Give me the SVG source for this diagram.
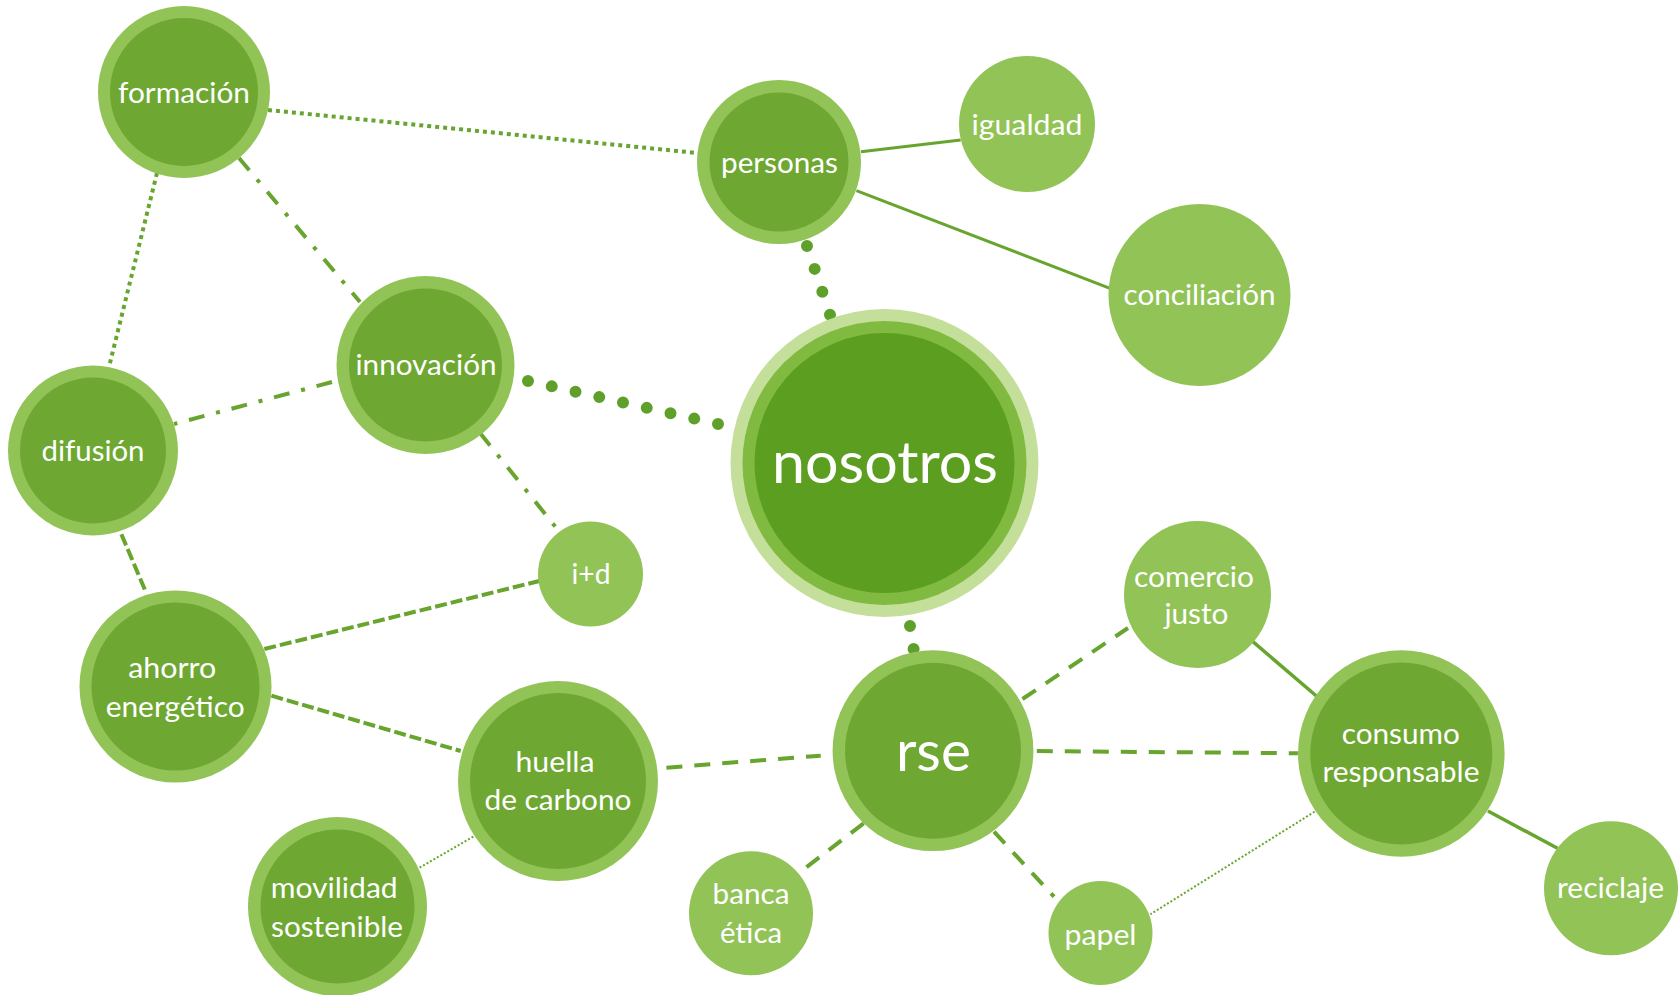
<svg xmlns="http://www.w3.org/2000/svg" width="1680" height="995" viewBox="0 0 1680 995">
<style>
.ring{fill:#92c357}
.core{fill:#6ea832}
.light{fill:#92c357}
.lbl{font-family:Lato,"Open Sans","DejaVu Sans",sans-serif;font-size:29.5px;fill:#ffffff;text-anchor:middle}
.big{font-size:59px}
.mid{font-size:56px}
.c{fill:none;stroke:#67a52e}
.dot{stroke-width:4;stroke-dasharray:4 4}
.dashdot{stroke-width:4;stroke-dasharray:16 12 4 12}
.sysdash{stroke-width:4;stroke-dasharray:12 4}
.dash{stroke-width:4;stroke-dasharray:16 12}
.fine{stroke-width:2;stroke-dasharray:2 2}
.solid{stroke-width:3}
.solid2{stroke-width:3.5}
.round{stroke-width:12;stroke-linecap:round;stroke:#5fa02a}
</style>
<rect width="1680" height="995" fill="#ffffff"/>
<g id="connectors">
<line class="c dot" x1="268" y1="110" x2="697.5" y2="153"/>
<line class="c dot" x1="157" y1="173" x2="109" y2="367"/>
<line class="c dashdot" x1="239" y1="158" x2="360" y2="302"/>
<line class="c dashdot" x1="332" y1="382" x2="174" y2="424"/>
<line class="c dashdot" x1="480" y1="433" x2="558" y2="530"/>
<line class="c round" x1="528" y1="381" x2="718" y2="424" stroke-dasharray="0 24.35"/>
<line class="c round" x1="807" y1="246" x2="830" y2="314.7" stroke-dasharray="0 24.13"/>
<line class="c round" x1="910" y1="626" x2="913.6" y2="649" stroke-dasharray="0 23.28"/>
<line class="c solid" x1="861" y1="151.7" x2="960.7" y2="140"/>
<line class="c solid" x1="856.4" y1="190.7" x2="1110" y2="288.3"/>
<line class="c sysdash" x1="121.4" y1="534.3" x2="146.4" y2="593.3"/>
<line class="c sysdash" x1="264.3" y1="649" x2="539.3" y2="581"/>
<line class="c sysdash" x1="271.4" y1="695.7" x2="460.7" y2="751"/>
<line class="c dash" x1="666.4" y1="767.7" x2="820.7" y2="755.7"/>
<line class="c fine" x1="419.6" y1="867.7" x2="475" y2="835.7"/>
<line class="c dash" x1="1022.5" y1="699" x2="1128" y2="628"/>
<line class="c dash" x1="1036.8" y1="751" x2="1297.9" y2="753.3"/>
<line class="c dash" x1="863.6" y1="823.3" x2="798.6" y2="873.3"/>
<line class="c dash" x1="994" y1="831.7" x2="1054" y2="896.7"/>
<line class="c solid2" x1="1252.9" y1="641.7" x2="1316.4" y2="696"/>
<line class="c solid2" x1="1487.9" y1="811" x2="1557.5" y2="848.3"/>
<line class="c fine" x1="1314.6" y1="811.7" x2="1150.4" y2="914.3"/>
</g>
<g id="formacion">
<circle class="ring" cx="184" cy="92" r="86"/><circle class="core" cx="184" cy="92" r="74"/>
<text class="lbl" x="184" y="103.3" textLength="132" lengthAdjust="spacingAndGlyphs">formación</text>
</g>
<g id="personas">
<circle class="ring" cx="779" cy="162" r="82"/><circle class="core" cx="779" cy="162" r="69.5"/>
<text class="lbl" x="779.5" y="173.3" textLength="117" lengthAdjust="spacingAndGlyphs">personas</text>
</g>
<g id="igualdad">
<circle class="light" cx="1027" cy="124" r="68"/>
<text class="lbl" x="1027" y="135" textLength="111" lengthAdjust="spacingAndGlyphs">igualdad</text>
</g>
<g id="conciliacion">
<circle class="light" cx="1199.5" cy="295" r="91"/>
<text class="lbl" x="1199.5" y="305" textLength="152" lengthAdjust="spacingAndGlyphs">conciliación</text>
</g>
<g id="innovacion">
<circle class="ring" cx="425.5" cy="365" r="89"/><circle class="core" cx="425.5" cy="365" r="76.5"/>
<text class="lbl" x="426" y="375" textLength="141" lengthAdjust="spacingAndGlyphs">innovación</text>
</g>
<g id="difusion">
<circle class="ring" cx="93" cy="450.5" r="85"/><circle class="core" cx="93" cy="450.5" r="73"/>
<text class="lbl" x="93" y="461" textLength="103" lengthAdjust="spacingAndGlyphs">difusión</text>
</g>
<g id="nosotros">
<circle cx="884.5" cy="463" r="154" fill="#c3df99"/>
<circle cx="884.5" cy="463" r="142" fill="#80ba41"/>
<circle cx="884.5" cy="463" r="130" fill="#5c9e20"/>
<text class="lbl big" x="885" y="483.3" textLength="226" lengthAdjust="spacingAndGlyphs">nosotros</text>
</g>
<g id="id">
<circle class="light" cx="590.5" cy="574" r="52.5"/>
<text class="lbl" x="591" y="584.3" textLength="39" lengthAdjust="spacingAndGlyphs">i+d</text>
</g>
<g id="ahorro">
<circle class="ring" cx="175.5" cy="686.5" r="96"/><circle class="core" cx="175.5" cy="686.5" r="84"/>
<text class="lbl" x="172.2" y="677.7" textLength="88" lengthAdjust="spacingAndGlyphs">ahorro</text>
<text class="lbl" x="175.2" y="716.7" textLength="139" lengthAdjust="spacingAndGlyphs">energético</text>
</g>
<g id="huella">
<circle class="ring" cx="558" cy="781" r="100"/><circle class="core" cx="558" cy="781" r="88"/>
<text class="lbl" x="555" y="771.7" textLength="79" lengthAdjust="spacingAndGlyphs">huella</text>
<text class="lbl" x="558" y="810" textLength="147" lengthAdjust="spacingAndGlyphs">de carbono</text>
</g>
<g id="movilidad">
<circle class="ring" cx="337.5" cy="906.5" r="89.5"/><circle class="core" cx="337.5" cy="906.5" r="77"/>
<text class="lbl" x="334.2" y="897.7" textLength="127" lengthAdjust="spacingAndGlyphs">movilidad</text>
<text class="lbl" x="337" y="936.7" textLength="132" lengthAdjust="spacingAndGlyphs">sostenible</text>
</g>
<g id="rse">
<circle class="ring" cx="933" cy="750.7" r="100.4"/><circle class="core" cx="933" cy="750.7" r="88"/>
<text class="lbl mid" x="933.4" y="771" textLength="75" lengthAdjust="spacingAndGlyphs">rse</text>
</g>
<g id="banca">
<circle class="light" cx="751" cy="913.3" r="62"/>
<text class="lbl" x="751" y="904.3" textLength="77" lengthAdjust="spacingAndGlyphs">banca</text>
<text class="lbl" x="751" y="943.3" textLength="62" lengthAdjust="spacingAndGlyphs">ética</text>
</g>
<g id="papel">
<circle class="light" cx="1100.5" cy="933" r="52"/>
<text class="lbl" x="1100.5" y="945" textLength="72" lengthAdjust="spacingAndGlyphs">papel</text>
</g>
<g id="comercio">
<circle class="light" cx="1197.5" cy="594.5" r="73.5"/>
<text class="lbl" x="1194" y="586.7" textLength="120" lengthAdjust="spacingAndGlyphs">comercio</text>
<text class="lbl" x="1196.4" y="624.3" textLength="64" lengthAdjust="spacingAndGlyphs">justo</text>
</g>
<g id="consumo">
<circle class="ring" cx="1401.3" cy="753.5" r="103.3"/><circle class="core" cx="1401.3" cy="753.5" r="91"/>
<text class="lbl" x="1400.8" y="744.3" textLength="118" lengthAdjust="spacingAndGlyphs">consumo</text>
<text class="lbl" x="1401" y="782.3" textLength="157" lengthAdjust="spacingAndGlyphs">responsable</text>
</g>
<g id="reciclaje">
<circle class="light" cx="1611" cy="888.3" r="67"/>
<text class="lbl" x="1610.5" y="898.3" textLength="107" lengthAdjust="spacingAndGlyphs">reciclaje</text>
</g>
</svg>
